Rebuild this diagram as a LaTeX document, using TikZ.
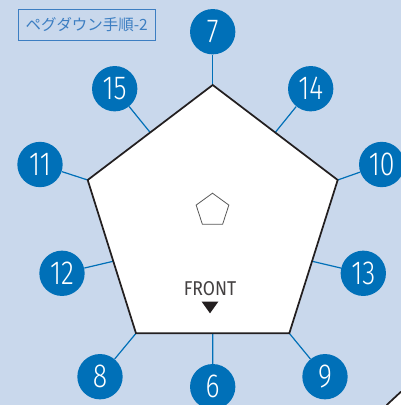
\documentclass[tikz,border=0pt]{standalone}
\usepackage{fontspec}
\setsansfont{Fira Sans}
\newfontfamily\pegfont[FakeStretch=0.8, UprightFont=* Light]{Fira Sans}
\newfontfamily\frontfont[FakeStretch=0.88]{Fira Sans}
\newfontfamily\jpfont{Noto Sans CJK JP}
\usetikzlibrary{shapes.geometric,calc}
\definecolor{bgblue}{HTML}{C9D8EC}
\definecolor{pegblue}{HTML}{0070B8}
\definecolor{tagblue}{HTML}{3C7EC2}
\definecolor{edgegray}{HTML}{231F20}
\tikzset{
  peg/.style={circle, fill=pegblue, text=white, minimum size=34pt, inner sep=0pt,
    font=\pegfont\fontsize{25}{25}\selectfont},
  tie/.style={pegblue, line width=0.9pt},
}
\begin{document}
\begin{tikzpicture}[x=0.75pt,y=-0.75pt]
        \useasboundingbox (0,0) rectangle (401,405);
        \clip (0,0) rectangle (401,405);
        \fill[bgblue] (0,0) rectangle (401,405);

        \node[draw=tagblue, line width=0.6pt, text=tagblue, minimum width=102.5pt, minimum height=23pt,
          font=\jpfont\fontsize{11.6}{11.6}\selectfont] (tag) at (86.7,24.7) {ペグダウン手順-2};

        \coordinate (top) at (212.7,85);
        \coordinate (lft) at (87.7,180);
        \coordinate (rgt) at (337.7,180);
        \coordinate (bl) at (136,333.3);
        \coordinate (br) at (289.3,333.3);
        \coordinate (m15) at ($(top)!0.5!(lft)$);
        \coordinate (m14) at ($(top)!0.5!(rgt)$);
        \coordinate (m12) at ($(lft)!0.53!(bl)$);
        \coordinate (m13) at ($(rgt)!0.53!(br)$);
        \coordinate (m6) at ($(bl)!0.5!(br)$);

        \node[peg] (p7) at (212.7,31.7) {7};
        \node[peg] (p15) at (114.7,88.7) {15};
        \node[peg] (p14) at (310.7,88.7) {14};
        \node[peg] (p11) at (40,164.5) {11};
        \node[peg] (p10) at (381.7,164.5) {10};
        \node[peg] (p12) at (62,273.3) {12};
        \node[peg] (p13) at (363.3,273.3) {13};
        \node[peg] (p8) at (100,376.7) {8};
        \node[peg] (p6) at (212.7,386.7) {6};
        \node[peg] (p9) at (325,376.7) {9};

        \draw[tie] (p7) -- (top);
        \draw[tie] (p15) -- (m15);
        \draw[tie] (p14) -- (m14);
        \draw[tie] (p11) -- (lft);
        \draw[tie] (p10) -- (rgt);
        \draw[tie] (p12) -- (m12);
        \draw[tie] (p13) -- (m13);
        \draw[tie] (p8) -- (bl);
        \draw[tie] (p6) -- (m6);
        \draw[tie] (p9) -- (br);

        \draw[edgegray, line width=1.3pt, fill=white] (top) -- (rgt) -- (br) -- (bl) -- (lft) -- cycle;

        \node[regular polygon, regular polygon sides=5, draw=black!65, line width=0.6pt,
          minimum size=25.8pt, inner sep=0pt] (mark) at (212.5,210.4) {};
        \node[text=edgegray!85, font=\frontfont\fontsize{15}{15}\selectfont] (front) at (210,288.3) {FRONT};
        \fill[edgegray] (201.7,301.7) -- (218.3,301.7) -- (210,313.3) -- cycle;

        \fill[white] (386.7,405) -- (401,391.7) -- (401,405) -- cycle;
        \draw[edgegray, line width=1.3pt] (386.7,405) -- (401,391.7);
\end{tikzpicture}
\end{document}
